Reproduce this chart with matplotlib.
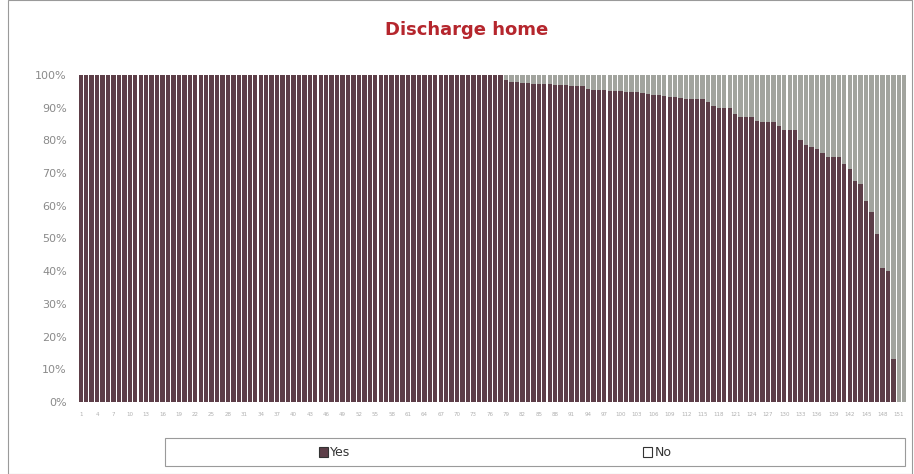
import numpy as np
import matplotlib
matplotlib.use('Agg')
import matplotlib.pyplot as plt
from matplotlib.patches import Rectangle

##Data: share of "Yes" per case (percent), cases sorted descending
yes_top = [100.0] * 78
yes_mid = [98.5, 98.0, 97.8, 97.6, 97.5, 97.4, 97.3, 97.2, 97.1, 97.0,
           96.9, 96.8, 96.7, 96.6, 96.5, 95.7, 95.5, 95.4, 95.3, 95.2,
           95.1, 95.0, 94.9, 94.8, 94.7, 94.5, 94.2, 94.0, 93.8, 93.6,
           93.4, 93.2]
yes_tail = [93.0, 92.8, 92.8, 92.8, 92.6, 91.6, 90.5, 90.0, 90.0, 90.0,
            88.0, 87.3, 87.3, 87.3, 86.0, 85.5, 85.5, 85.5, 84.5, 83.2,
            83.2, 83.2, 80.0, 78.7, 78.1, 77.3, 76.1, 74.8, 74.8, 74.8,
            72.8, 71.3, 67.7, 66.7, 61.6, 58.0, 51.5, 41.0, 40.0, 13.0,
            0.0, 0.0]
yes_pct = np.array(yes_top + yes_mid + yes_tail)
no_pct = 100.0 - yes_pct
cases = np.arange(1, len(yes_pct) + 1)
tick_cases = cases[::3]

title = 'Discharge home'
series_names = ['Yes', 'No']
yes_color = '#5d3e48'
no_color = '#a2a49e'

fig = plt.figure(figsize=(9.14, 4.74), dpi=100)
ax = fig.add_axes([78/914, 72/474, 829/914, 327/474])

ax.bar(cases, yes_pct, width=0.8, color=yes_color, linewidth=0)
ax.bar(cases, no_pct, bottom=yes_pct, width=0.8, color=no_color, linewidth=0)

ax.set_xlim(0.5, len(cases) + 0.5)
ax.set_ylim(0, 100)
ax.set_yticks(np.arange(0, 101, 10))
ax.set_yticklabels([str(v) + '%' for v in range(0, 101, 10)])
ax.set_xticks(tick_cases)
ax.set_xticklabels([str(c) for c in tick_cases])
ax.tick_params(axis='y', labelsize=8, colors='#8a8a8a', length=0, pad=8)
ax.tick_params(axis='x', labelsize=4, colors='#b0b0b0', length=0, pad=7)
for s in ax.spines.values():
    s.set_visible(False)

fig.text(467/914, 1 - 30/474, title, ha='center', va='center',
         fontsize=13, fontweight='bold', color='#b5262d')

##Legend drawn by hand to match the wide box under the plot
fig.patches.append(Rectangle((165/914, 8/474), 740/914, 28/474, transform=fig.transFigure,
                             facecolor='white', edgecolor='#9a9a9a', linewidth=0.8))
leg_y = 1 - 452/474
fig.patches.append(Rectangle((319/914, leg_y - 5/474), 9/914, 10/474, transform=fig.transFigure,
                             facecolor=yes_color, edgecolor='#333333', linewidth=0.8))
fig.text(330/914, leg_y, series_names[0], ha='left', va='center', fontsize=9, color='#333333')
fig.patches.append(Rectangle((643/914, leg_y - 5/474), 9/914, 10/474, transform=fig.transFigure,
                             facecolor='white', edgecolor='#333333', linewidth=0.8))
fig.text(655/914, leg_y, series_names[1], ha='left', va='center', fontsize=9, color='#333333')

##Outer chart frame
fig.patches.append(Rectangle((8/914, 0), 904/914, 1, transform=fig.transFigure,
                             facecolor='none', edgecolor='#9a9a9a', linewidth=0.8))

fig.savefig('out.png', dpi=100)
